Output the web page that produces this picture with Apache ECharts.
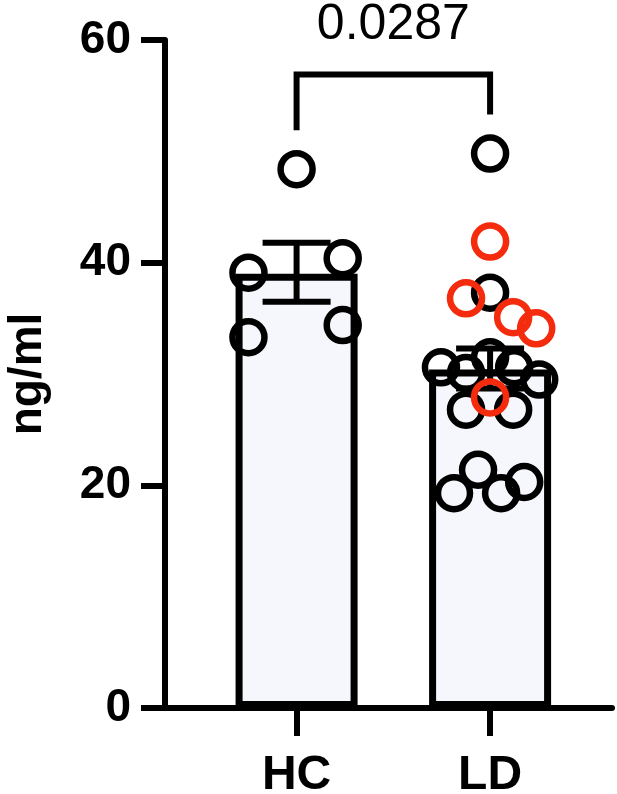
<!DOCTYPE html>
<html><head><meta charset="utf-8">
<script src="https://cdn.jsdelivr.net/npm/echarts@6/dist/echarts.min.js"></script>
<style>html,body{margin:0;padding:0;background:#fff}#c{width:617px;height:794px}</style>
</head><body><div id="c"></div>
<script>
// ---- data ----
var categories = ['HC', 'LD'];
var barMeans = [39.0, 30.4];
var semUpper = [41.8, 32.3];
var semLower = [36.5, 28.7];
var hcValues = [48.4, 39.1, 40.4, 33.3, 34.4];
var hcJitter = [0, -48, 46, -48, 46];              // px offsets
var ldBlackValues = [49.8, 37.3, 30.6, 30.1, 31.5, 30.6, 29.5, 26.8, 26.8, 21.4, 19.3, 19.3, 20.3];
var ldBlackJitter = [0, 0, -49, -24, 0, 24, 49, -24, 23, -12, -36, 11, 34];
var ldRedValues = [41.9, 36.8, 35.1, 34.1, 27.9];
var ldRedJitter = [0, -24, 23, 46, 0];
var yTicks = [0, 20, 40, 60];
var pValue = '0.0287';
var bracketTop = 56.9, bracketLeftEnd = 51.9, bracketRightEnd = 53.3, pLabelY = 61.3;

// ---- chart ----
var PX_PER_UNIT = 193;
var FONT = '"Liberation Sans", Arial, Helvetica, sans-serif';
function pts(group, vals, jit) {
  return vals.map(function (v, i) { return [group + jit[i] / PX_PER_UNIT, v]; });
}
var chart = echarts.init(document.getElementById('c'), null, {renderer: 'canvas'});
var ring = function (color, data) {
  return {
    type: 'scatter', data: data, symbol: 'circle', symbolSize: 32, z: 5,
    itemStyle: {color: 'rgba(0,0,0,0)', borderColor: color, borderWidth: 6.5, opacity: 1},
    emphasis: {disabled: true}
  };
};
chart.setOption({
  animation: false,
  grid: {left: 165, right: 5, top: 40, bottom: 86, containLabel: false, outerBoundsMode: 'none'},
  xAxis: {
    type: 'value', min: 0.32, max: 2.63,
    splitLine: {show: false},
    axisLine: {show: true, onZero: false, lineStyle: {color: '#000', width: 6}},
    axisTick: {show: true, customValues: [1, 2], length: 28, lineStyle: {color: '#000', width: 6}},
    axisLabel: {
      customValues: [1, 2], margin: 44,
      formatter: function (v) { return categories[Math.round(v) - 1] || ''; },
      color: '#000', fontFamily: FONT, fontWeight: 'bold', fontSize: 48
    }
  },
  yAxis: {
    type: 'value', min: 0, max: 60, interval: 20,
    name: 'ng/ml', nameLocation: 'middle', nameGap: 114, nameRotate: 90,
    nameTextStyle: {color: '#000', fontFamily: FONT, fontWeight: 'bold', fontSize: 46},
    splitLine: {show: false},
    axisLine: {show: true, lineStyle: {color: '#000', width: 6}},
    axisTick: {show: true, length: 24, lineStyle: {color: '#000', width: 6}},
    axisLabel: {
      margin: 34, color: '#000', fontFamily: FONT, fontWeight: 'bold', fontSize: 46,
      formatter: function (v) { return yTicks.indexOf(v) >= 0 ? String(v) : ''; }
    }
  },
  series: [
    {
      type: 'bar', barWidth: 122, z: 2,
      data: barMeans.map(function (m, i) { return [i + 1, m]; }),
      itemStyle: {color: '#f5f7fd', borderColor: '#000', borderWidth: 7},
      emphasis: {disabled: true}
    },
    {
      type: 'custom', z: 4,
      data: barMeans.map(function (m, i) { return [i + 1, semLower[i], semUpper[i]]; }),
      renderItem: function (params, api) {
        var x = api.value(0);
        var lo = api.coord([x, api.value(1)]);
        var hi = api.coord([x, api.value(2)]);
        var hw = 34;
        var st = {stroke: '#000', lineWidth: 6};
        return {type: 'group', children: [
          {type: 'line', shape: {x1: lo[0], y1: lo[1], x2: hi[0], y2: hi[1]}, style: st},
          {type: 'line', shape: {x1: hi[0] - hw, y1: hi[1], x2: hi[0] + hw, y2: hi[1]}, style: st},
          {type: 'line', shape: {x1: lo[0] - hw, y1: lo[1], x2: lo[0] + hw, y2: lo[1]}, style: st}
        ]};
      }
    },
    ring('#000', pts(1, hcValues, hcJitter)),
    ring('#000', pts(2, ldBlackValues, ldBlackJitter)),
    ring('#f42b0c', pts(2, ldRedValues, ldRedJitter)),
    {
      type: 'custom', z: 6, clip: false,
      data: [[1, 2, bracketTop, bracketLeftEnd, bracketRightEnd, pLabelY]],
      renderItem: function (params, api) {
        var a = api.coord([api.value(0), api.value(2)]);
        var b = api.coord([api.value(1), api.value(2)]);
        var la = api.coord([api.value(0), api.value(3)]);
        var rb = api.coord([api.value(1), api.value(4)]);
        var t = api.coord([(api.value(0) + api.value(1)) / 2, api.value(5)]);
        return {type: 'group', children: [
          {type: 'polyline', shape: {points: [[la[0], la[1]], [a[0], a[1]], [b[0], b[1]], [rb[0], rb[1]]]},
           style: {stroke: '#000', lineWidth: 6, fill: null, lineJoin: 'miter'}},
          {type: 'text', x: t[0], y: t[1],
           style: {text: pValue, fill: '#000', font: '50px ' + FONT, align: 'center', verticalAlign: 'middle'}}
        ]};
      }
    }
  ]
});
</script></body></html>
